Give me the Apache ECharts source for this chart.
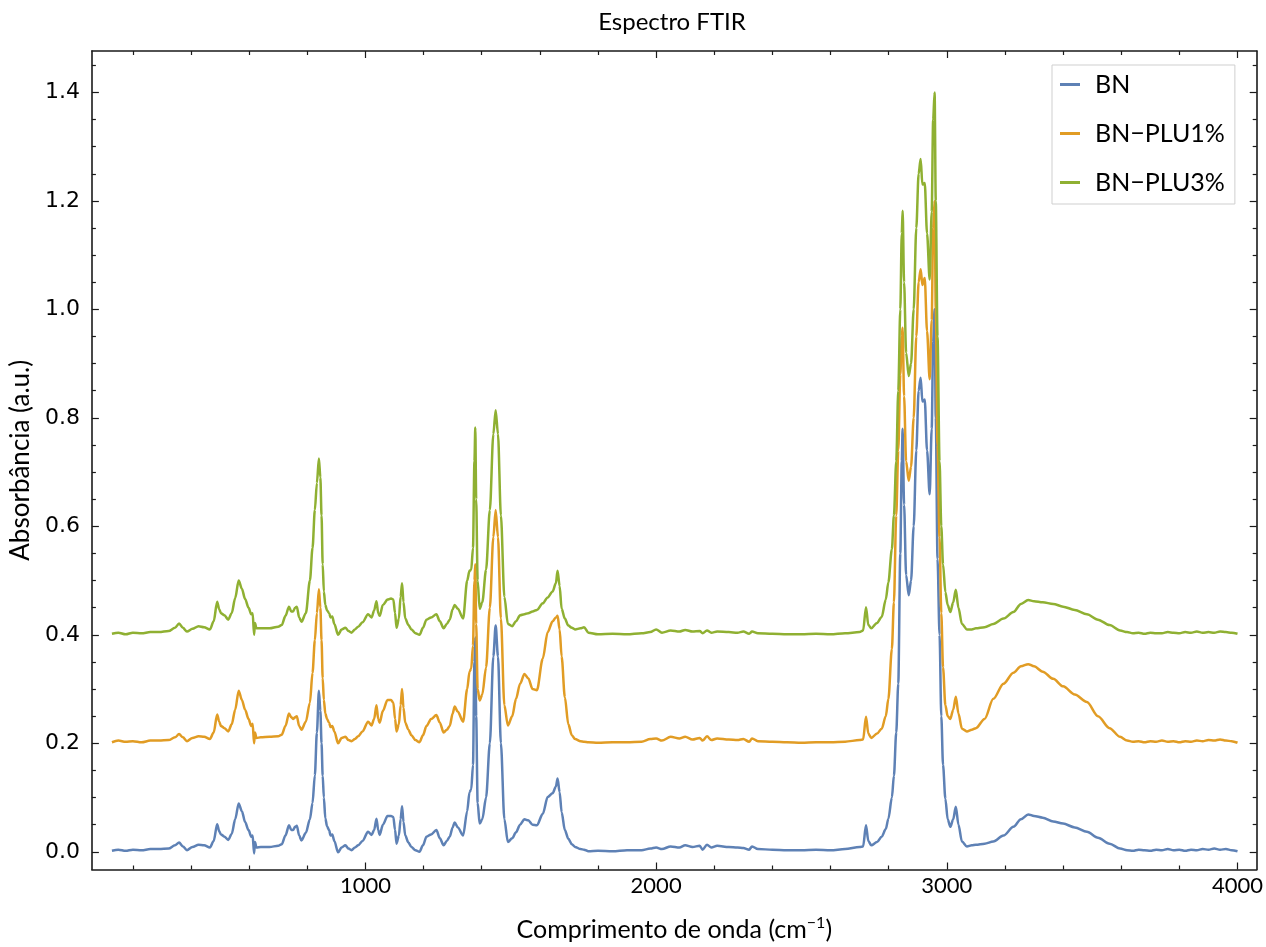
<!DOCTYPE html>
<html>
<head>
<meta charset="utf-8">
<title>Espectro FTIR</title>
<script src="https://cdn.jsdelivr.net/npm/echarts@6/dist/echarts.min.js"></script>
<style>
  html, body { margin: 0; padding: 0; background: #fff; }
  #chart { width: 1266px; height: 947px; }
</style>
</head>
<body>
<div id="chart"></div>
<script>
// Wavenumber grid (cm^-1) shared by the three spectra
const wavenumber = [
  128, 150, 175, 200, 230, 260, 290, 323, 345, 359, 372, 386, 405, 426, 445, 465,
  478, 490, 497, 503, 515, 528, 540, 552, 564, 575, 586, 598, 607, 612, 617, 620, 625, 640, 670, 700,
  712, 725, 737, 745, 751, 758, 764, 772, 780, 795, 809, 818, 826, 833, 840, 845, 849, 853, 857, 862, 868, 875, 880, 886, 893, 906, 918, 931, 942, 952, 964, 975, 990,
  1009, 1021, 1030, 1038, 1044, 1049, 1060, 1076, 1088, 1096, 1102, 1107, 1115, 1121, 1126, 1131, 1137, 1148, 1158, 1172, 1186, 1198, 1210, 1226, 1244, 1256, 1269, 1280, 1290, 1300, 1307, 1318, 1336,
  1350, 1358, 1364, 1370, 1375, 1378, 1381, 1386, 1393, 1402, 1415, 1428, 1440, 1448, 1456, 1466, 1478, 1490, 1505, 1518, 1532, 1547, 1560, 1575, 1590, 1610, 1627, 1644, 1655, 1661, 1668, 1675, 1686, 1698, 1710, 1721, 1740, 1752, 1767,
  1800, 1850, 1900, 1950, 1980, 2000, 2020, 2050, 2080, 2100, 2125, 2150, 2160, 2175, 2190, 2210, 2250, 2280, 2300, 2320, 2330, 2350, 2400, 2450, 2500, 2550, 2600, 2650, 2700,
  2712, 2722, 2730, 2740, 2760, 2776, 2790, 2799, 2811, 2818, 2826, 2833, 2840, 2845, 2848, 2853, 2860, 2869, 2877, 2886, 2895, 2903, 2910, 2916, 2924, 2932, 2941, 2948, 2953, 2958, 2962, 2968, 2975, 2981, 2987, 2995, 3003, 3012, 3022, 3031, 3040, 3052, 3069, 3086,
  3100, 3130, 3160, 3195, 3229, 3255, 3280, 3300, 3330, 3366, 3400, 3440, 3482, 3520, 3560, 3596, 3620, 3640, 3660, 3680, 3700, 3720, 3740, 3760, 3780, 3800, 3820, 3840, 3860, 3880, 3900, 3920, 3940, 3960, 3980, 4000
];

// Absorbance of BN
const absBN = [
  0.002, 0.004, 0.002, 0.004, 0.003, 0.005, 0.005, 0.006, 0.012, 0.017, 0.010, 0.003, 0.009, 0.013, 0.012, 0.008,
  0.020, 0.051, 0.038, 0.032, 0.028, 0.022, 0.033, 0.060, 0.089, 0.075, 0.055, 0.040, 0.028, 0.030, -0.003, 0.018, 0.008, 0.009, 0.009, 0.011,
  0.014, 0.030, 0.049, 0.040, 0.040, 0.046, 0.048, 0.030, 0.021, 0.035, 0.060, 0.090, 0.141, 0.220, 0.297, 0.260, 0.200, 0.140, 0.100, 0.062, 0.047, 0.040, 0.030, 0.032, 0.020, -0.001, 0.008, 0.012, 0.006, 0.003, 0.008, 0.012, 0.020,
  0.037, 0.031, 0.040, 0.061, 0.040, 0.031, 0.050, 0.066, 0.066, 0.064, 0.040, 0.015, 0.030, 0.060, 0.084, 0.055, 0.030, 0.017, 0.009, 0.003, 0.000, 0.012, 0.028, 0.032, 0.040, 0.025, 0.012, 0.020, 0.028, 0.045, 0.054, 0.045, 0.030,
  0.075, 0.110, 0.115, 0.160, 0.350, 0.395, 0.250, 0.090, 0.052, 0.060, 0.100, 0.200, 0.360, 0.417, 0.360, 0.200, 0.060, 0.018, 0.025, 0.036, 0.050, 0.060, 0.058, 0.050, 0.049, 0.070, 0.101, 0.108, 0.120, 0.135, 0.110, 0.073, 0.040, 0.024, 0.014, 0.009, 0.005, 0.004, 0.001,
  0.002, 0.001, 0.003, 0.003, 0.006, 0.008, 0.005, 0.010, 0.008, 0.012, 0.009, 0.011, 0.004, 0.013, 0.008, 0.011, 0.009, 0.008, 0.007, 0.004, 0.010, 0.005, 0.004, 0.003, 0.003, 0.004, 0.003, 0.005, 0.009,
  0.010, 0.049, 0.020, 0.012, 0.018, 0.028, 0.042, 0.061, 0.100, 0.140, 0.220, 0.310, 0.550, 0.720, 0.780, 0.640, 0.510, 0.473, 0.500, 0.600, 0.740, 0.850, 0.874, 0.830, 0.834, 0.740, 0.659, 0.780, 0.940, 1.000, 0.800, 0.540, 0.400, 0.250, 0.160, 0.098, 0.060, 0.046, 0.060, 0.083, 0.050, 0.019, 0.010, 0.012,
  0.013, 0.015, 0.019, 0.030, 0.046, 0.060, 0.069, 0.066, 0.063, 0.056, 0.052, 0.045, 0.037, 0.026, 0.015, 0.006, 0.003, 0.002, 0.004, 0.003, 0.002, 0.004, 0.003, 0.005, 0.003, 0.004, 0.002, 0.004, 0.003, 0.005, 0.004, 0.006, 0.004, 0.005, 0.003, 0.001
];

// Absorbance of BN-PLU1% (offset +0.2)
const absPLU1 = [
  0.202, 0.205, 0.203, 0.204, 0.202, 0.205, 0.205, 0.206, 0.211, 0.217, 0.211, 0.204, 0.210, 0.213, 0.212, 0.208,
  0.220, 0.253, 0.240, 0.232, 0.228, 0.222, 0.235, 0.262, 0.297, 0.280, 0.262, 0.245, 0.232, 0.236, 0.200, 0.220, 0.210, 0.211, 0.212, 0.213,
  0.216, 0.232, 0.255, 0.248, 0.245, 0.248, 0.250, 0.232, 0.225, 0.240, 0.275, 0.330, 0.390, 0.440, 0.484, 0.450, 0.390, 0.320, 0.280, 0.255, 0.245, 0.238, 0.230, 0.232, 0.222, 0.200, 0.210, 0.212, 0.206, 0.204, 0.208, 0.213, 0.222,
  0.240, 0.233, 0.245, 0.270, 0.245, 0.238, 0.260, 0.280, 0.280, 0.275, 0.245, 0.222, 0.235, 0.270, 0.300, 0.265, 0.238, 0.225, 0.215, 0.206, 0.202, 0.215, 0.232, 0.245, 0.252, 0.238, 0.220, 0.225, 0.232, 0.255, 0.268, 0.258, 0.240,
  0.300, 0.332, 0.338, 0.380, 0.500, 0.530, 0.420, 0.300, 0.279, 0.290, 0.340, 0.450, 0.580, 0.630, 0.580, 0.430, 0.270, 0.233, 0.250, 0.282, 0.310, 0.328, 0.320, 0.300, 0.298, 0.356, 0.405, 0.425, 0.432, 0.435, 0.410, 0.360, 0.285, 0.235, 0.215, 0.208, 0.204, 0.203, 0.202,
  0.201, 0.202, 0.202, 0.203, 0.208, 0.209, 0.205, 0.212, 0.209, 0.212, 0.207, 0.210, 0.205, 0.213, 0.206, 0.209, 0.207, 0.206, 0.208, 0.203, 0.209, 0.204, 0.203, 0.202, 0.201, 0.202, 0.202, 0.203, 0.206,
  0.207, 0.249, 0.218, 0.210, 0.218, 0.227, 0.250, 0.282, 0.374, 0.460, 0.620, 0.740, 0.880, 0.950, 0.966, 0.840, 0.720, 0.684, 0.710, 0.800, 0.950, 1.050, 1.074, 1.045, 1.058, 0.960, 0.871, 0.980, 1.150, 1.200, 1.000, 0.750, 0.580, 0.440, 0.340, 0.270, 0.250, 0.245, 0.262, 0.286, 0.255, 0.227, 0.222, 0.225,
  0.228, 0.245, 0.282, 0.310, 0.330, 0.342, 0.346, 0.342, 0.332, 0.319, 0.305, 0.290, 0.276, 0.250, 0.228, 0.212, 0.205, 0.203, 0.204, 0.202, 0.204, 0.203, 0.205, 0.203, 0.204, 0.202, 0.204, 0.203, 0.205, 0.204, 0.206, 0.205, 0.207, 0.205, 0.204, 0.201
];

// Absorbance of BN-PLU3% (offset +0.4)
const absPLU3 = [
  0.402, 0.404, 0.401, 0.404, 0.403, 0.405, 0.405, 0.407, 0.413, 0.421, 0.413, 0.406, 0.411, 0.416, 0.414, 0.410,
  0.425, 0.461, 0.447, 0.440, 0.436, 0.428, 0.440, 0.468, 0.500, 0.485, 0.466, 0.450, 0.438, 0.440, 0.400, 0.422, 0.412, 0.412, 0.412, 0.415,
  0.418, 0.435, 0.452, 0.443, 0.443, 0.450, 0.452, 0.432, 0.424, 0.440, 0.500, 0.560, 0.630, 0.680, 0.725, 0.690, 0.620, 0.530, 0.480, 0.455, 0.445, 0.440, 0.432, 0.434, 0.420, 0.400, 0.410, 0.413, 0.407, 0.404, 0.410, 0.415, 0.423,
  0.438, 0.432, 0.445, 0.462, 0.440, 0.435, 0.455, 0.465, 0.467, 0.465, 0.440, 0.413, 0.430, 0.470, 0.495, 0.460, 0.430, 0.418, 0.410, 0.403, 0.400, 0.413, 0.428, 0.432, 0.438, 0.425, 0.412, 0.420, 0.428, 0.447, 0.455, 0.448, 0.430,
  0.500, 0.518, 0.520, 0.560, 0.720, 0.782, 0.650, 0.500, 0.448, 0.460, 0.520, 0.630, 0.770, 0.814, 0.770, 0.620, 0.470, 0.420, 0.416, 0.425, 0.436, 0.438, 0.440, 0.443, 0.446, 0.458, 0.469, 0.480, 0.495, 0.518, 0.490, 0.448, 0.430, 0.417, 0.413, 0.410, 0.412, 0.414, 0.404,
  0.401, 0.402, 0.401, 0.403, 0.405, 0.410, 0.404, 0.408, 0.406, 0.409, 0.406, 0.407, 0.403, 0.408, 0.404, 0.406, 0.405, 0.404, 0.406, 0.402, 0.406, 0.403, 0.402, 0.401, 0.401, 0.402, 0.401, 0.403, 0.405,
  0.408, 0.451, 0.418, 0.412, 0.422, 0.433, 0.465, 0.497, 0.558, 0.620, 0.720, 0.850, 1.000, 1.140, 1.182, 1.050, 0.920, 0.877, 0.900, 1.000, 1.150, 1.250, 1.277, 1.230, 1.233, 1.140, 1.055, 1.180, 1.350, 1.400, 1.200, 0.950, 0.720, 0.600, 0.530, 0.479, 0.455, 0.442, 0.460, 0.483, 0.450, 0.420, 0.410, 0.410,
  0.412, 0.414, 0.420, 0.430, 0.442, 0.457, 0.464, 0.462, 0.460, 0.457, 0.452, 0.446, 0.438, 0.428, 0.418, 0.408, 0.405, 0.403, 0.404, 0.402, 0.404, 0.403, 0.403, 0.405, 0.404, 0.403, 0.405, 0.404, 0.406, 0.404, 0.405, 0.404, 0.406, 0.405, 0.404, 0.402
];

const seriesNames = ['BN', 'BN\u2212PLU1%', 'BN\u2212PLU3%'];
const seriesColors = ['#5E81B5', '#E19C24', '#8FB032'];

// Tick values
const xMajorTicks = [1000, 2000, 3000, 4000];
const xMinorTicks = [200, 400, 600, 800, 1200, 1400, 1600, 1800, 2200, 2400, 2600, 2800, 3200, 3400, 3600, 3800];
const yMajorTicks = [0, 0.2, 0.4, 0.6, 0.8, 1.0, 1.2, 1.4];
const yMinorTicks = [0.05, 0.1, 0.15, 0.25, 0.3, 0.35, 0.45, 0.5, 0.55, 0.65, 0.7, 0.75, 0.85, 0.9, 0.95, 1.05, 1.1, 1.15, 1.25, 1.3, 1.35, 1.45];

const X_MIN = 59, X_MAX = 4066;
const Y_MIN = -0.0326, Y_MAX = 1.4763;

const FRAME = { color: '#1a1a1a', width: 1.6 };
const LABEL_FONT = 'Lato, "Open Sans", sans-serif';

function xAxisDef(position, ticks, len, withLine, withLabels) {
  return {
    type: 'value', min: X_MIN, max: X_MAX, position: position,
    axisLine: { show: withLine, onZero: false, lineStyle: FRAME },
    axisTick: { show: true, inside: true, length: len, customValues: ticks, lineStyle: { color: '#1a1a1a', width: 1.2 } },
    axisLabel: withLabels
      ? { show: true, customValues: ticks, margin: 5, color: '#000', fontFamily: LABEL_FONT, fontSize: 22, formatter: v => String(v) }
      : { show: false },
    splitLine: { show: false }
  };
}
function yAxisDef(position, ticks, len, withLine, withLabels) {
  return {
    type: 'value', min: Y_MIN, max: Y_MAX, position: position,
    axisLine: { show: withLine, onZero: false, lineStyle: FRAME },
    axisTick: { show: true, inside: true, length: len, customValues: ticks, lineStyle: { color: '#1a1a1a', width: 1.2 } },
    axisLabel: withLabels
      ? { show: true, customValues: ticks, margin: 12, color: '#000', fontFamily: '"DejaVu Sans", sans-serif', fontSize: 22, formatter: v => v.toFixed(1) }
      : { show: false },
    splitLine: { show: false }
  };
}

const xAxes = [
  xAxisDef('bottom', xMajorTicks, 7, true, true),
  xAxisDef('bottom', xMinorTicks, 4, false, false),
  xAxisDef('top', xMajorTicks, 7, true, false),
  xAxisDef('top', xMinorTicks, 4, false, false)
];
xAxes[0].name = '{t|Comprimento de onda (cm}{s|\u22121}{t|)}';
xAxes[0].nameLocation = 'middle';
xAxes[0].nameGap = 45;
xAxes[0].nameTextStyle = {
  rich: {
    t: { fontFamily: LABEL_FONT, fontSize: 25, color: '#000', lineHeight: 30 },
    s: { fontFamily: LABEL_FONT, fontSize: 16, color: '#000', lineHeight: 18, verticalAlign: 'top' }
  }
};

const yAxes = [
  yAxisDef('left', yMajorTicks, 7, true, true),
  yAxisDef('left', yMinorTicks, 4, false, false),
  yAxisDef('right', yMajorTicks, 7, true, false),
  yAxisDef('right', yMinorTicks, 4, false, false)
];
yAxes[0].name = 'Absorb\u00e2ncia (a.u.)';
yAxes[0].nameLocation = 'middle';
yAxes[0].nameGap = 54;
yAxes[0].nameTextStyle = { fontFamily: LABEL_FONT, fontSize: 26, color: '#000' };

const spectra = [absBN, absPLU1, absPLU3];
const series = spectra.map((vals, i) => ({
  name: seriesNames[i],
  type: 'line',
  xAxisIndex: 0,
  yAxisIndex: 0,
  data: wavenumber.map((w, k) => [w, vals[k]]),
  showSymbol: false,
  smooth: 0.3,
  smoothMonotone: 'x',
  lineStyle: { width: 2.5, color: seriesColors[i] },
  itemStyle: { color: seriesColors[i] },
  emphasis: { disabled: true }
}));

const chart = echarts.init(document.getElementById('chart'), null, { renderer: 'canvas' });
chart.setOption({
  animation: false,
  backgroundColor: '#fff',
  grid: { left: 90, right: 9, top: 51, bottom: 76, containLabel: false },
  graphic: [{
    type: 'text', x: 672, y: 22,
    style: { text: 'Espectro FTIR', fontFamily: LABEL_FONT, fontSize: 24, fill: '#000', align: 'center', verticalAlign: 'middle' }
  }],
  legend: {
    data: seriesNames,
    orient: 'vertical',
    left: 1052, top: 65,
    padding: [7, 10, 9, 8],
    itemGap: 24,
    itemWidth: 20, itemHeight: 3,
    icon: 'rect',
    borderColor: '#cfcfcf', borderWidth: 1, backgroundColor: '#fff',
    textStyle: { fontFamily: LABEL_FONT, fontSize: 25, color: '#000', lineHeight: 22, padding: [0, 0, 0, 10] }
  },
  xAxis: xAxes,
  yAxis: yAxes,
  series: series
});
</script>
</body>
</html>
